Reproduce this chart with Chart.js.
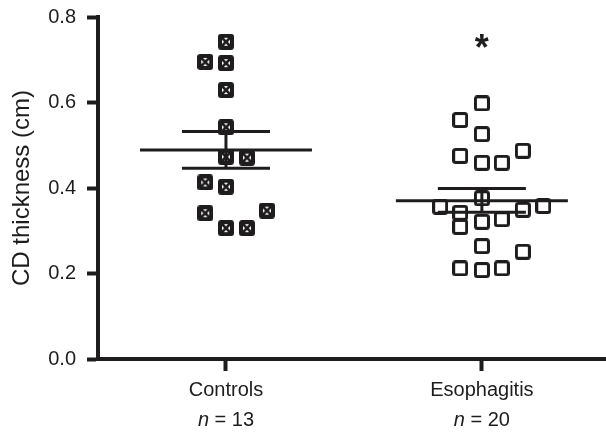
<!DOCTYPE html>
<html>
<head>
<meta charset="utf-8">
<script src="https://cdn.jsdelivr.net/npm/chart.js@4"></script>
<style>
  body { margin: 0; background: #fff; }
  canvas { display: block; }
</style>
</head>
<body>
<canvas id="graphique" width="606" height="433"></canvas>
<script>
// groupes et valeurs
const categories = ["Controls", "Esophagitis"];
const groupN = [13, 20];

const controlsValues = [0.742, 0.695, 0.692, 0.629, 0.542, 0.473, 0.471, 0.413, 0.403, 0.341, 0.306, 0.306, 0.347];
const controlsJitter = [0, -0.081, 0, 0, 0, 0, 0.082, -0.081, 0, -0.081, 0, 0.082, 0.16];

const esophagitisValues = [0.598, 0.559, 0.526, 0.475, 0.459, 0.459, 0.487, 0.376, 0.356, 0.358,
                           0.349, 0.342, 0.309, 0.321, 0.327, 0.264, 0.212, 0.208, 0.212, 0.251];
const esophagitisJitter = [0, -0.085, 0, -0.085, 0, 0.078, 0.16, 0, -0.163, 0.24,
                           0.16, -0.085, -0.085, 0, 0.078, 0, -0.085, 0, 0.078, 0.16];

const groupMeans = [0.489, 0.370];
const groupSemUpper = [0.532, 0.399];
const groupSemLower = [0.446, 0.343];
const significance = ["", "*"];
const significanceY = [0, 0.746];

const yTicks = [0, 0.2, 0.4, 0.6, 0.8];

const ink = "#1e1c1d";
const font = "'Liberation Sans', Arial, sans-serif";

// marqueurs : carré plein avec croix / carré vide
function markerControls() {
    const c = document.createElement("canvas");
    c.width = c.height = 16;
    const g = c.getContext("2d");
    g.fillStyle = ink;
    g.beginPath();
    if (g.roundRect) g.roundRect(0, 0, 16, 16, 3); else g.rect(0, 0, 16, 16);
    g.fill();
    g.fillStyle = "#fff";
    g.fillRect(4, 4, 8, 8);
    g.strokeStyle = ink;
    g.lineWidth = 2.5;
    g.beginPath();
    g.moveTo(4, 4); g.lineTo(12, 12);
    g.moveTo(12, 4); g.lineTo(4, 12);
    g.stroke();
    return c;
}

function markerEsophagitis() {
    const c = document.createElement("canvas");
    c.width = c.height = 16;
    const g = c.getContext("2d");
    g.strokeStyle = ink;
    g.lineWidth = 3;
    g.beginPath();
    if (g.roundRect) g.roundRect(1.5, 1.5, 13, 13, 2); else g.rect(1.5, 1.5, 13, 13);
    g.stroke();
    return c;
}

const meanHalf = 0.336, capHalf = 0.172;

// lignes moyenne + SEM
const lineDatasets = [];
categories.forEach((cat, i) => {
    const cx = i + 1;
    const seg = (data, w) => lineDatasets.push({
        type: "line", data, borderColor: ink, borderWidth: w,
        pointRadius: 0, fill: false, tension: 0
    });
    seg([{ x: cx - meanHalf, y: groupMeans[i] }, { x: cx + meanHalf, y: groupMeans[i] }], 3);
    seg([{ x: cx - capHalf, y: groupSemUpper[i] }, { x: cx + capHalf, y: groupSemUpper[i] }], 3);
    seg([{ x: cx - capHalf, y: groupSemLower[i] }, { x: cx + capHalf, y: groupSemLower[i] }], 3);
    seg([{ x: cx, y: groupSemLower[i] }, { x: cx, y: groupSemUpper[i] }], 3);
});

const labelsPlugin = {
    id: "labelsN",
    afterDraw(chart) {
        const { ctx, scales: { x, y } } = chart;
        ctx.save();
        ctx.fillStyle = ink;
        ctx.textBaseline = "middle";
        ctx.textAlign = "left";
        groupN.forEach((n, i) => {
            const px = x.getPixelForValue(i + 1);
            const rest = " = " + n;
            ctx.font = "italic 20px " + font;
            const w1 = ctx.measureText("n").width;
            ctx.font = "20px " + font;
            const w2 = ctx.measureText(rest).width;
            const start = px - (w1 + w2) / 2;
            ctx.font = "italic 20px " + font;
            ctx.fillText("n", start, x.top + 61);
            ctx.font = "20px " + font;
            ctx.fillText(rest, start + w1, x.top + 61);
        });
        // astérisque
        ctx.textAlign = "center";
        ctx.textBaseline = "alphabetic";
        ctx.font = "bold 36px " + font;
        significance.forEach((s, i) => {
            if (!s) return;
            ctx.fillText(s, x.getPixelForValue(i + 1), y.getPixelForValue(significanceY[i]) + 20);
        });
        ctx.restore();
    }
};

const ctx = document.getElementById("graphique").getContext("2d");
const chart = new Chart(ctx, {
    type: "scatter",
    data: {
        datasets: [
            ...lineDatasets,
            {
                label: "Controls",
                data: controlsValues.map((v, i) => ({ x: 1 + controlsJitter[i], y: v })),
                pointStyle: markerControls(),
                pointRadius: 8
            },
            {
                label: "Esophagitis",
                data: esophagitisValues.map((v, i) => ({ x: 2 + esophagitisJitter[i], y: v })),
                pointStyle: markerEsophagitis(),
                pointRadius: 8
            }
        ]
    },
    options: {
        responsive: false,
        animation: false,
        layout: { autoPadding: false, padding: { top: 17, right: 0, left: 0, bottom: 0 } },
        plugins: {
            legend: { display: false },
            tooltip: { enabled: false }
        },
        scales: {
            x: {
                type: "linear",
                min: 0.5,
                max: 2.485,
                afterBuildTicks: s => { s.ticks = categories.map((c, i) => ({ value: i + 1 })); },
                afterFit: s => { s.height = 74; s.paddingLeft = 0; s.paddingRight = 0; },
                border: { display: true, color: ink, width: 4 },
                grid: { drawOnChartArea: false, drawTicks: true, tickLength: 12, tickWidth: 4, tickColor: ink },
                ticks: {
                    autoSkip: false,
                    maxRotation: 0,
                    padding: 7,
                    color: ink,
                    font: { family: font, size: 20 },
                    callback: v => categories[Math.round(v) - 1] || ""
                }
            },
            y: {
                min: 0,
                max: 0.8,
                afterBuildTicks: s => { s.ticks = yTicks.map(v => ({ value: v })); },
                afterFit: s => { s.width = 98; s.paddingTop = 0; s.paddingBottom = 0; },
                border: { display: true, color: ink, width: 4 },
                grid: { drawOnChartArea: false, drawTicks: true, tickLength: 11, tickWidth: 4, tickColor: ink },
                ticks: {
                    padding: 11,
                    color: ink,
                    font: { family: font, size: 20 },
                    callback: v => v.toFixed(1)
                },
                title: {
                    display: true,
                    text: "CD thickness (cm)",
                    color: ink,
                    font: { family: font, size: 24 },
                    padding: { top: 8, bottom: 0 }
                }
            }
        }
    },
    plugins: [labelsPlugin]
});
</script>
</body>
</html>
